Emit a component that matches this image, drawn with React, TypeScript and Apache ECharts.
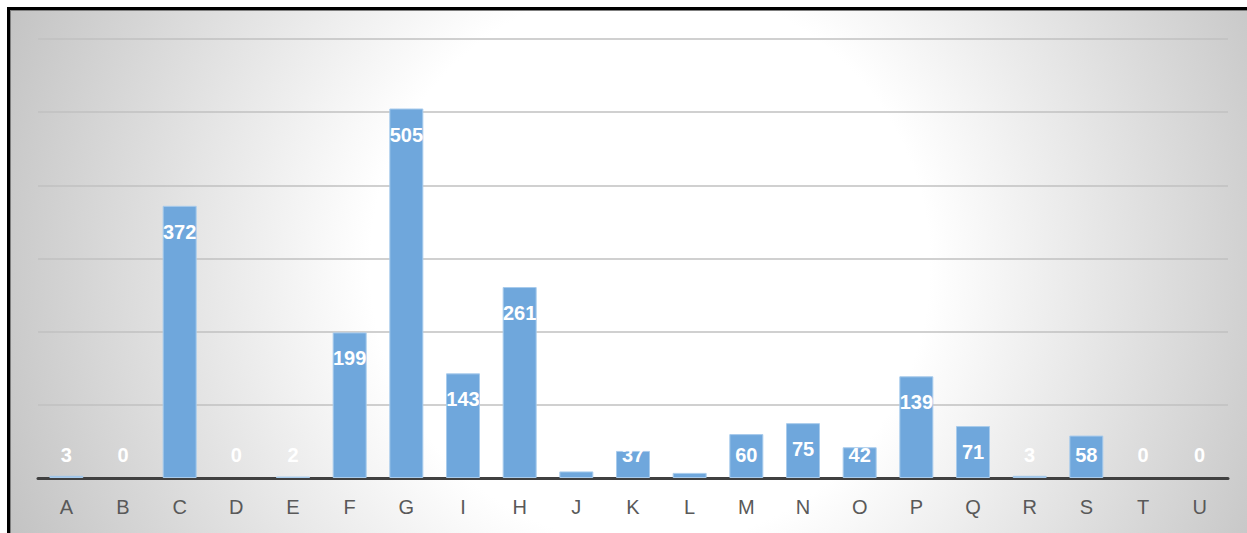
import React, { useEffect, useRef } from "react";
import * as echarts from "echarts";

const categories = ["A", "B", "C", "D", "E", "F", "G", "I", "H", "J", "K", "L", "M", "N", "O", "P", "Q", "R", "S", "T", "U"];
const values = [3, 0, 372, 0, 2, 199, 505, 143, 261, 9, 37, 7, 60, 75, 42, 139, 71, 3, 58, 0, 0];
const yMax = 600;
const yInterval = 100;

const CHART_W = 1236;
const CHART_H = 522;
const GRID_TOP = 28;
const GRID_BOTTOM = 55;

export default function App() {
  const ref = useRef<HTMLDivElement>(null);

  useEffect(() => {
    if (!ref.current) return;
    const chart = echarts.init(ref.current, undefined, { renderer: "svg" });
    const plotH = CHART_H - GRID_TOP - GRID_BOTTOM;
    const pxPerUnit = plotH / yMax;

    const data = values.map((v) => {
      const h = v * pxPerUnit;
      const big = h >= 50;
      return {
        value: v,
        itemStyle: v === 0 ? { borderWidth: 0 } : undefined,
        label: big
          ? { position: "insideTop", distance: 16 }
          : { position: "insideBottom", distance: 13 },
      };
    });

    chart.setOption({
      animation: false,
      graphic: [
        {
          type: "rect",
          z: -100,
          silent: true,
          shape: { x: 0, y: 0, width: CHART_W, height: CHART_H },
          style: {
            fill: new echarts.graphic.RadialGradient(639, 254, 700, [
              { offset: 0, color: "#ffffff" },
              { offset: 0.4, color: "#ffffff" },
              { offset: 1, color: "#c2c2c2" },
            ], true),
          },
        },
      ],
      grid: { left: 27, right: 19, top: GRID_TOP, bottom: GRID_BOTTOM },
      xAxis: {
        type: "category",
        data: categories,
        axisLine: { show: true, lineStyle: { color: "#404040", width: 3 } },
        axisTick: { show: false },
        axisLabel: {
          color: "#595959",
          fontSize: 20,
          fontFamily: "Liberation Sans, Arial, sans-serif",
          margin: 19,
        },
      },
      yAxis: {
        type: "value",
        min: 0,
        max: yMax,
        interval: yInterval,
        axisLabel: { show: false },
        axisLine: { show: false },
        axisTick: { show: false },
        splitLine: { show: true, lineStyle: { color: "#c0c0c0", width: 1.5 } },
      },
      series: [
        {
          type: "bar",
          data,
          barWidth: "60%",
          itemStyle: { color: "#6fa7dc", borderColor: "#a8cbec", borderWidth: 1 },
          label: {
            show: true,
            color: "#ffffff",
            fontSize: 20,
            fontWeight: "bold",
            fontFamily: "Liberation Sans, Arial, sans-serif",
          },
        },
      ],
    });
    return () => chart.dispose();
  }, []);

  return (
    <div
      style={{
        position: "absolute",
        left: 7,
        top: 7,
        width: 1240,
        height: 526,
        boxSizing: "border-box",
        borderLeft: "3px solid #000",
        borderTop: "3px solid #000",
        overflow: "hidden",
      }}
    >
      <div
        style={{
          boxSizing: "border-box",
          borderLeft: "1px solid #7f7f7f",
          borderTop: "1px solid #7f7f7f",
          width: 1237,
          height: 523,
        }}
      >
        <div ref={ref} style={{ width: CHART_W, height: CHART_H }} />
      </div>
    </div>
  );
}
